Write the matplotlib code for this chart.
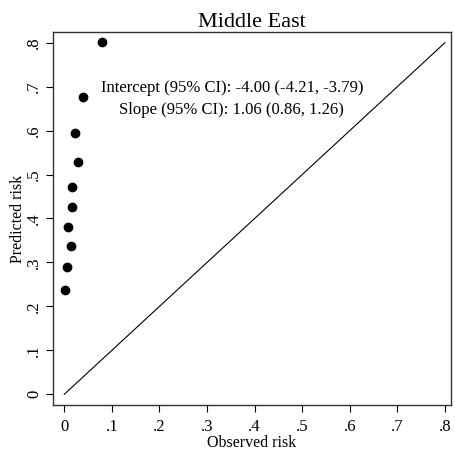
import matplotlib
matplotlib.use("Agg")
import matplotlib.pyplot as plt

# Calibration points (observed vs predicted risk)
observed = [0.0015, 0.005, 0.0134, 0.0084, 0.0155, 0.0155, 0.0288, 0.0225, 0.040, 0.0798]
predicted = [0.237, 0.289, 0.337, 0.381, 0.4255, 0.471, 0.528, 0.5945, 0.676, 0.801]
ticks = [0, 0.1, 0.2, 0.3, 0.4, 0.5, 0.6, 0.7, 0.8]
tick_labels = ["0", ".1", ".2", ".3", ".4", ".5", ".6", ".7", ".8"]

plt.rcParams['font.family'] = ['Liberation Serif', 'DejaVu Serif']

fig = plt.figure(figsize=(4.56, 4.55), dpi=100)
ax = fig.add_axes([0.1162, 0.1099, 0.8728, 0.8198])

# Reference line
ax.plot([0, 0.8], [0, 0.8], color="black", linewidth=0.8)
# Points
ax.plot(observed, predicted, "o", color="black", markersize=6)

ax.set_xlim(-0.0237, 0.8126)
ax.set_ylim(-0.0243, 0.8243)
ax.set_xticks(ticks)
ax.set_xticklabels(tick_labels)
ax.set_yticks(ticks)
ax.set_yticklabels(tick_labels, rotation=90, va="center")
ax.tick_params(direction="out", length=5, width=0.8, labelsize=12)
ax.tick_params(axis="x", pad=5)
ax.tick_params(axis="y", pad=3)

for s in ax.spines.values():
    s.set_linewidth(1.0)
    s.set_color("#333333")

ax.set_xlabel("Observed risk", fontsize=11.5, labelpad=0)
ax.set_ylabel("Predicted risk", fontsize=11.5, labelpad=0)
ax.set_title("Middle East", fontsize=16, pad=3)

ax.text(0.352, 0.671,
        "Intercept (95% CI): -4.00 (-4.21, -3.79)\nSlope (95% CI): 1.06 (0.86, 1.26)",
        ha="center", va="center", fontsize=12, linespacing=1.5)

fig.savefig("out.png", dpi=100)
